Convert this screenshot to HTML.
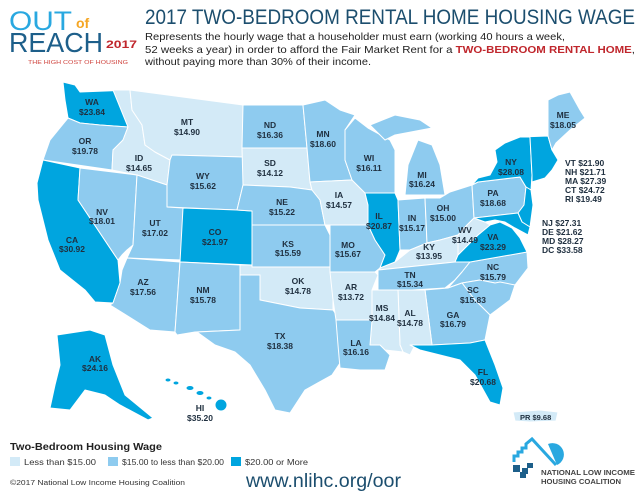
<!DOCTYPE html>
<html><head><meta charset="utf-8"><style>
html,body{margin:0;padding:0;background:#fff;}
svg{display:block;}
.l{fill:#d3eaf7}.m{fill:#8ecbef}.d{fill:#00a5df}
.s polygon,.s ellipse{stroke:#fff;stroke-width:1;stroke-linejoin:round}
.t{font-family:"Liberation Sans",sans-serif;font-weight:bold;font-size:8.5px;fill:#1f2f3f;text-anchor:middle}
.r{font-family:"Liberation Sans",sans-serif;font-weight:bold;font-size:8.5px;fill:#1f2f3f}
</style></head><body>
<svg width="640" height="491" viewBox="0 0 640 491" xmlns="http://www.w3.org/2000/svg">
<!-- Logo -->
<text x="9" y="30" font-family="Liberation Sans Narrow, Liberation Sans, sans-serif" font-size="27" fill="#29a8e0" textLength="63" lengthAdjust="spacingAndGlyphs">OUT</text>
<text x="76" y="28" font-family="Liberation Sans, sans-serif" font-weight="bold" font-size="14" fill="#f5a623">of</text>
<text x="9" y="52" font-family="Liberation Sans Narrow, Liberation Sans, sans-serif" font-size="28" fill="#1d5f8a" textLength="94" lengthAdjust="spacingAndGlyphs">REACH</text>
<text x="106" y="48" font-family="Liberation Sans, sans-serif" font-weight="bold" font-size="11" fill="#c0272d" textLength="31" lengthAdjust="spacingAndGlyphs">2017</text>
<text x="28" y="64" font-family="Liberation Sans, sans-serif" font-size="5.6" fill="#d0453f" textLength="100" lengthAdjust="spacingAndGlyphs">THE HIGH COST OF HOUSING</text>
<!-- Title -->
<text x="145" y="24" font-family="Liberation Sans Narrow, Liberation Sans, sans-serif" font-size="21" fill="#1c4e6e" textLength="490" lengthAdjust="spacingAndGlyphs">2017 TWO-BEDROOM RENTAL HOME HOUSING WAGE</text>
<g font-family="Liberation Sans, sans-serif" font-size="10.5" fill="#222">
<text x="145" y="40" textLength="420" lengthAdjust="spacingAndGlyphs">Represents the hourly wage that a householder must earn (working 40 hours a week,</text>
<text x="145" y="53" textLength="490" lengthAdjust="spacingAndGlyphs">52 weeks a year) in order to afford the Fair Market Rent for a <tspan font-weight="bold" fill="#c0272d">TWO-BEDROOM RENTAL HOME</tspan>,</text>
<text x="145" y="65" textLength="226" lengthAdjust="spacingAndGlyphs">without paying more than 30% of their income.</text>
</g>
<!-- Map -->
<g class="s">
<polygon class="d" points="63,82 75,85 80,92 130,90 128,127 100,125 80,123 68,118 65,100"/>
<polygon class="m" points="68,118 80,123 100,125 128,127 123,140 113,150 112,170 43,160 50,140"/>
<polygon class="d" points="43,160 80,168 78,200 118,260 120,283 113,303 95,302 85,290 60,270 48,240 38,200 37,183"/>
<polygon class="m" points="80,168 137,175 133,245 127,250 122,255 118,260 78,200"/>
<polygon class="l" points="113,90 130,90 132,110 142,125 145,145 155,152 170,160 167,185 137,175 112,170 113,150 123,140 128,127"/>
<polygon class="l" points="130,90 243,105 243,157 172,155 170,160 155,152 145,145 142,125 132,110"/>
<polygon class="m" points="172,155 243,157 243,185 237,210 167,207 167,185 170,160"/>
<polygon class="m" points="137,175 167,185 167,207 183,208 182,260 127,258 133,245"/>
<polygon class="d" points="183,208 237,210 252,211 252,265 180,262"/>
<polygon class="m" points="127,258 180,262 175,332 150,330 110,305 113,303 120,283 122,270"/>
<polygon class="m" points="180,262 240,265 240,330 195,332 177,335 175,332"/>
<polygon class="m" points="243,105 303,105 307,148 242,148"/>
<polygon class="l" points="242,148 307,148 310,182 312,190 290,187 243,185"/>
<polygon class="m" points="243,185 290,187 312,190 320,200 325,225 252,225 252,211 237,210"/>
<polygon class="m" points="252,225 325,225 330,235 330,267 252,267"/>
<polygon class="l" points="240,265 252,265 252,267 330,267 333,275 333,310 300,308 275,303 260,300 260,275 240,275"/>
<polygon class="m" points="240,275 260,275 260,300 275,303 300,308 333,310 340,320 342,360 332,375 305,390 290,413 275,410 265,390 250,365 235,352 215,345 197,332 240,330"/>
<polygon class="m" points="303,105 325,100 340,110 355,115 345,130 345,160 352,180 310,182 307,148"/>
<polygon class="l" points="310,182 352,180 365,193 368,205 368,225 330,225 325,225 320,200 312,190"/>
<polygon class="m" points="330,225 368,225 375,240 385,255 380,268 375,272 330,272 330,267 330,235"/>
<polygon class="m" points="345,130 355,118 368,128 390,140 395,150 395,193 365,193 352,180 345,160"/>
<polygon class="d" points="365,193 395,193 398,200 400,250 395,262 388,268 380,268 385,255 375,240 368,225 368,205"/>
<polygon class="m" points="398,200 425,198 427,243 410,250 400,250"/>
<polygon class="m" points="425,198 440,198 450,192 472,185 474,218 467,225 458,235 440,240 427,243"/>
<polygon class="m" points="405,195 408,165 418,140 432,145 440,165 445,195"/>
<polygon class="m" points="370,125 395,115 420,120 432,128 395,135 385,140"/>
<polygon class="l" points="380,268 395,262 410,250 427,243 440,240 458,235 458,250 468,255 455,262 380,270"/>
<polygon class="m" points="378,270 455,262 470,262 462,272 455,280 445,288 378,292"/>
<polygon class="m" points="470,262 527,252 528,268 515,285 495,283 480,280 462,283 448,288 455,280 462,272"/>
<polygon class="d" points="458,255 468,245 478,235 490,225 500,222 512,228 520,238 527,252 470,262 455,262"/>
<polygon class="l" points="458,235 467,225 474,218 485,222 490,225 478,235 468,245 458,255"/>
<polygon class="m" points="472,185 478,182 520,177 526,187 524,205 518,213 474,218"/>
<polygon class="d" points="472,185 478,178 490,175 497,162 495,150 505,143 520,137 530,137 532,175 531,190 526,187 520,177 478,182"/>
<polygon class="d" points="526,187 531,190 533,205 530,227 522,222 518,213 524,205"/>
<polygon class="d" points="520,137 548,136 552,150 558,160 552,170 545,178 532,182 532,175 530,137"/>
<polygon class="m" points="548,136 548,115 548,100 558,95 570,92 580,110 585,118 570,130 556,143 552,150"/>
<polygon class="d" points="474,218 518,213 522,222 530,227 528,235 515,228 505,222 495,220 485,222"/>
<polygon class="m" points="462,283 480,280 495,283 500,282 515,285 510,300 490,315 475,300"/>
<polygon class="m" points="425,290 448,288 462,283 475,300 490,315 485,340 470,343 432,345"/>
<polygon class="l" points="398,290 425,290 432,345 415,345 410,355 403,352 400,345"/>
<polygon class="l" points="372,290 398,290 400,345 403,352 385,350 380,345 370,345 372,320"/>
<polygon class="l" points="330,272 375,272 378,275 372,290 372,320 340,322 336,320 333,300"/>
<polygon class="m" points="336,320 372,320 370,345 380,345 390,355 385,370 360,370 340,368 338,345"/>
<polygon class="d" points="410,345 432,345 470,343 485,340 495,365 503,388 500,405 490,402 475,375 460,360 440,355 420,350"/>
<polygon class="d" points="57,335 90,330 105,335 113,365 125,395 153,418 148,420 120,405 105,395 85,390 70,410 50,408 55,385 60,365"/>
<ellipse class="d" cx="168" cy="380" rx="3" ry="2"/>
<ellipse class="d" cx="176" cy="383" rx="3" ry="2"/>
<ellipse class="d" cx="190" cy="388" rx="4" ry="2.5"/>
<ellipse class="d" cx="200" cy="393" rx="4" ry="2.5"/>
<ellipse class="d" cx="209" cy="398" rx="3" ry="2"/>
<ellipse class="d" cx="221" cy="405" rx="6" ry="6"/>
<polygon class="l" points="513,412 540,410 558,412 556,421 530,422 515,421"/>
</g>
<g class="t">
<text x="92" y="105">WA</text><text x="92" y="115">$23.84</text>
<text x="85" y="144">OR</text><text x="85" y="154">$19.78</text>
<text x="139" y="161">ID</text><text x="139" y="171">$14.65</text>
<text x="187" y="125">MT</text><text x="187" y="135">$14.90</text>
<text x="270" y="128">ND</text><text x="270" y="138">$16.36</text>
<text x="323" y="137">MN</text><text x="323" y="147">$18.60</text>
<text x="270" y="166">SD</text><text x="270" y="176">$14.12</text>
<text x="203" y="179">WY</text><text x="203" y="189">$15.62</text>
<text x="102" y="215">NV</text><text x="102" y="224">$18.01</text>
<text x="155" y="226">UT</text><text x="155" y="236">$17.02</text>
<text x="215" y="235">CO</text><text x="215" y="245">$21.97</text>
<text x="282" y="205">NE</text><text x="282" y="215">$15.22</text>
<text x="288" y="247">KS</text><text x="288" y="256">$15.59</text>
<text x="72" y="243">CA</text><text x="72" y="252">$30.92</text>
<text x="143" y="285">AZ</text><text x="143" y="295">$17.56</text>
<text x="203" y="293">NM</text><text x="203" y="303">$15.78</text>
<text x="298" y="284">OK</text><text x="298" y="294">$14.78</text>
<text x="280" y="339">TX</text><text x="280" y="349">$18.38</text>
<text x="95" y="362">AK</text><text x="95" y="371">$24.16</text>
<text x="200" y="411">HI</text><text x="200" y="421">$35.20</text>
<text x="369" y="161">WI</text><text x="369" y="171">$16.11</text>
<text x="422" y="178">MI</text><text x="422" y="187">$16.24</text>
<text x="339" y="198">IA</text><text x="339" y="208">$14.57</text>
<text x="379" y="219">IL</text><text x="379" y="229">$20.87</text>
<text x="412" y="221">IN</text><text x="412" y="231">$15.17</text>
<text x="443" y="211">OH</text><text x="443" y="221">$15.00</text>
<text x="493" y="196">PA</text><text x="493" y="206">$18.68</text>
<text x="511" y="165">NY</text><text x="511" y="175">$28.08</text>
<text x="563" y="118">ME</text><text x="563" y="128">$18.05</text>
<text x="465" y="233">WV</text><text x="465" y="243">$14.49</text>
<text x="493" y="240">VA</text><text x="493" y="250">$23.29</text>
<text x="429" y="250">KY</text><text x="429" y="259">$13.95</text>
<text x="348" y="248">MO</text><text x="348" y="257">$15.67</text>
<text x="410" y="278">TN</text><text x="410" y="287">$15.34</text>
<text x="493" y="270">NC</text><text x="493" y="280">$15.79</text>
<text x="351" y="290">AR</text><text x="351" y="300">$13.72</text>
<text x="473" y="293">SC</text><text x="473" y="303">$15.83</text>
<text x="382" y="311">MS</text><text x="382" y="321">$14.84</text>
<text x="410" y="316">AL</text><text x="410" y="326">$14.78</text>
<text x="453" y="318">GA</text><text x="453" y="327">$16.79</text>
<text x="356" y="346">LA</text><text x="356" y="355">$16.16</text>
<text x="483" y="375">FL</text><text x="483" y="385">$20.68</text>
</g>
<g class="r">
<text x="565" y="166">VT $21.90</text><text x="565" y="175">NH $21.71</text><text x="565" y="184">MA $27.39</text><text x="565" y="193">CT $24.72</text><text x="565" y="202">RI $19.49</text>
<text x="542" y="226">NJ $27.31</text><text x="542" y="235">DE $21.62</text><text x="542" y="244">MD $28.27</text><text x="542" y="253">DC $33.58</text>
<text x="520" y="420" font-size="7.5">PR $9.68</text>
</g>
<!-- Legend -->
<text x="10" y="450" font-family="Liberation Sans, sans-serif" font-weight="bold" font-size="10" fill="#222" textLength="152" lengthAdjust="spacingAndGlyphs">Two-Bedroom Housing Wage</text>
<rect x="10" y="457" width="10" height="9" class="l"/>
<rect x="108" y="457" width="10" height="9" class="m"/>
<rect x="231" y="457" width="10" height="9" class="d"/>
<g font-family="Liberation Sans, sans-serif" font-size="8.5" fill="#333">
<text x="24" y="465" textLength="72" lengthAdjust="spacingAndGlyphs">Less than $15.00</text>
<text x="122" y="465" textLength="102" lengthAdjust="spacingAndGlyphs">$15.00 to less than $20.00</text>
<text x="245" y="465" textLength="63" lengthAdjust="spacingAndGlyphs">$20.00 or More</text>
<text x="10" y="485" font-size="7.5" textLength="175" lengthAdjust="spacingAndGlyphs">©2017 National Low Income Housing Coalition</text>
</g>
<text x="246" y="487" font-family="Liberation Sans, sans-serif" font-size="19" fill="#1c4e6e" textLength="155" lengthAdjust="spacingAndGlyphs">www.nlihc.org/oor</text>
<!-- NLIHC logo -->
<path d="M548,444 A11,11 0 0 1 557,465 Z" fill="#29a8e0"/>
<polyline points="514,462 514,456 518,456 518,452 522,452 522,448 526,448 526,444 532,439 556,465" fill="none" stroke="#29a8e0" stroke-width="3"/>
<rect x="513" y="465" width="7" height="7" fill="#1d5f8a"/>
<rect x="522" y="468" width="6" height="6" fill="#1d5f8a"/>
<rect x="527" y="463" width="6" height="5" fill="#1d5f8a"/>
<rect x="520" y="472" width="6" height="6" fill="#1d5f8a"/>
<g font-family="Liberation Sans, sans-serif" font-weight="bold" font-size="7" fill="#444">
<text x="541" y="475" textLength="94" lengthAdjust="spacingAndGlyphs">NATIONAL LOW INCOME</text>
<text x="541" y="484" textLength="80" lengthAdjust="spacingAndGlyphs">HOUSING COALITION</text>
</g>
</svg>
</body></html>
